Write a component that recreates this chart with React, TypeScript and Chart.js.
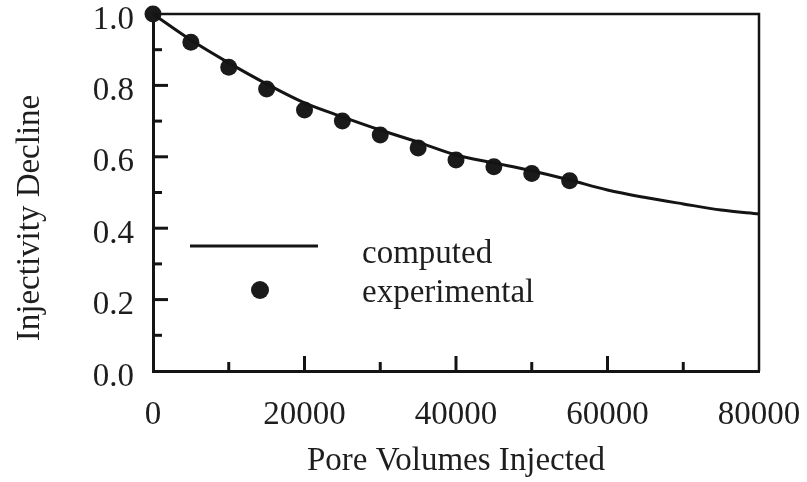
import { useEffect, useRef } from "react";
import { Chart, registerables } from "chart.js";

Chart.register(...registerables);

// ---- data ----
const computedX = [0, 5000, 10000, 15000, 20000, 25000, 30000, 35000, 40000, 45000, 50000, 55000, 60000, 65000, 70000, 75000, 80000];
const computedY = [1.0, 0.927, 0.863, 0.804, 0.751, 0.712, 0.675, 0.641, 0.605, 0.583, 0.561, 0.535, 0.507, 0.486, 0.468, 0.451, 0.44];
const experimentalX = [0, 5000, 10000, 15000, 20000, 25000, 30000, 35000, 40000, 45000, 50000, 55000];
const experimentalY = [1.0, 0.921, 0.851, 0.79, 0.731, 0.7, 0.661, 0.625, 0.591, 0.572, 0.553, 0.533];

const xMinorTicks = [10000, 30000, 50000, 70000];
const xMajorTicks = [20000, 40000, 60000];
const yMinorTicks = [0.1, 0.3, 0.5, 0.7, 0.9];
const yMajorTicks = [0.2, 0.4, 0.6, 0.8];

const legendLabels = ["computed", "experimental"];
const xTitle = "Pore Volumes Injected";
const yTitle = "Injectivity Decline";

const FONT = "'Liberation Serif', 'Times New Roman', serif";
const FS = 33;
const TEXT = "#1e1e1e";
const INK = "#141414";

const framePlugin = {
  id: "frameAndTicks",
  afterDraw(chart: any) {
    const { ctx, chartArea } = chart;
    const xs = chart.scales.x;
    const ys = chart.scales.y;
    ctx.save();
    ctx.strokeStyle = INK;
    // top and right frame
    ctx.lineWidth = 2.5;
    ctx.beginPath();
    ctx.moveTo(chartArea.left, chartArea.top);
    ctx.lineTo(chartArea.right, chartArea.top);
    ctx.lineTo(chartArea.right, chartArea.bottom);
    ctx.stroke();
    // inward ticks
    ctx.lineWidth = 3;
    const drawX = (vals: number[], len: number) => {
      vals.forEach((v) => {
        const px = xs.getPixelForValue(v);
        ctx.beginPath();
        ctx.moveTo(px, chartArea.bottom);
        ctx.lineTo(px, chartArea.bottom - len);
        ctx.stroke();
      });
    };
    const drawY = (vals: number[], len: number) => {
      vals.forEach((v) => {
        const py = ys.getPixelForValue(v);
        ctx.beginPath();
        ctx.moveTo(chartArea.left, py);
        ctx.lineTo(chartArea.left + len, py);
        ctx.stroke();
      });
    };
    drawX(xMajorTicks, 15);
    drawX(xMinorTicks, 9);
    drawY(yMajorTicks, 15);
    drawY(yMinorTicks, 9);

    // y axis title
    ctx.fillStyle = TEXT;
    ctx.font = `${FS}px ${FONT}`;
    ctx.textAlign = "center";
    ctx.textBaseline = "middle";
    ctx.translate(30, 218);
    ctx.rotate(-Math.PI / 2);
    ctx.fillText(yTitle, 0, 0);
    ctx.restore();

    // legend inside plot
    ctx.save();
    const lineDs = chart.data.datasets[0];
    const ptDs = chart.data.datasets[1];
    ctx.strokeStyle = lineDs.borderColor;
    ctx.lineWidth = lineDs.borderWidth;
    ctx.beginPath();
    ctx.moveTo(190, 246);
    ctx.lineTo(318, 246);
    ctx.stroke();
    ctx.fillStyle = ptDs.backgroundColor;
    ctx.beginPath();
    ctx.arc(260, 290, 9, 0, Math.PI * 2);
    ctx.fill();
    ctx.fillStyle = TEXT;
    ctx.font = `${FS}px ${FONT}`;
    ctx.textAlign = "left";
    ctx.textBaseline = "alphabetic";
    ctx.fillText(legendLabels[0], 362, 263);
    ctx.fillText(legendLabels[1], 362, 302);
    ctx.restore();
  },
};

export default function App() {
  const ref = useRef<HTMLCanvasElement | null>(null);
  useEffect(() => {
    if (!ref.current) return;
    const chart = new Chart(ref.current, {
      type: "line",
      data: {
        datasets: [
          {
            label: legendLabels[0],
            data: computedX.map((x, i) => ({ x, y: computedY[i] })),
            borderColor: INK,
            borderWidth: 3,
            pointRadius: 0,
            cubicInterpolationMode: "monotone",
            fill: false,
            clip: false as any,
          },
          {
            label: legendLabels[1],
            data: experimentalX.map((x, i) => ({ x, y: experimentalY[i] })),
            showLine: false,
            pointRadius: 8.5,
            pointHoverRadius: 8.5,
            backgroundColor: "#1a1a1a",
            pointBackgroundColor: "#1a1a1a",
            borderWidth: 0,
            clip: false as any,
          },
        ],
      },
      options: {
        responsive: false,
        animation: false,
        events: [],
        layout: { padding: { top: 14, right: 48, left: 0, bottom: 0 }, autoPadding: false },
        plugins: { legend: { display: false }, tooltip: { enabled: false } },
        scales: {
          x: {
            type: "linear",
            min: 0,
            max: 80000,
            grid: { display: false, drawTicks: false },
            border: { display: true, width: 3, color: INK },
            ticks: {
              stepSize: 20000,
              padding: 25,
              color: TEXT,
              font: { family: FONT, size: FS },
              maxRotation: 0,
              callback: (v: any) => String(v),
            },
            title: {
              display: true,
              text: xTitle,
              color: TEXT,
              font: { family: FONT, size: FS },
              padding: { top: 0, bottom: 1 },
            },
            afterFit: (s: any) => {
              s.height = 111;
              s.paddingLeft = 0;
              s.paddingRight = 0;
            },
          },
          y: {
            type: "linear",
            min: 0,
            max: 1,
            grid: { display: false, drawTicks: false },
            border: { display: true, width: 3, color: INK },
            ticks: {
              stepSize: 0.2,
              padding: 19,
              labelOffset: 6,
              color: TEXT,
              font: { family: FONT, size: FS },
              callback: (v: any) => Number(v).toFixed(1),
            },
            afterFit: (s: any) => {
              s.width = 153;
              s.paddingTop = 0;
              s.paddingBottom = 0;
            },
          },
        },
      },
      plugins: [framePlugin],
    });
    return () => chart.destroy();
  }, []);
  return (
    <div style={{ position: "absolute", left: 0, top: 0, width: 807, height: 482, background: "#fff" }}>
      <canvas ref={ref} width={807} height={482} style={{ width: 807, height: 482, display: "block" }} />
    </div>
  );
}
